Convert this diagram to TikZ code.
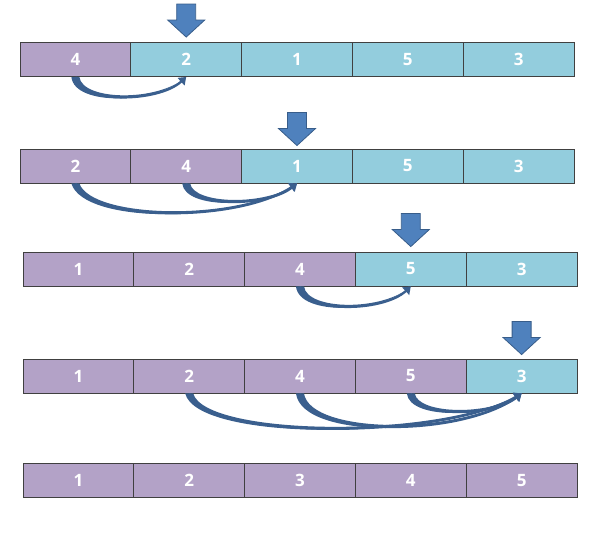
\documentclass[tikz,border=0pt]{standalone}
\usepackage{fontspec}
\setmainfont{Open Sans}
\usetikzlibrary{arrows.meta,calc}
\definecolor{purp}{HTML}{B3A2C7}
\definecolor{cy}{HTML}{93CDDD}
\definecolor{arrfill}{HTML}{4F81BD}
\definecolor{arrdraw}{HTML}{385D8A}
\definecolor{curvc}{HTML}{3A5F8E}
\tikzset{
  cell/.style={draw=black!75, line width=0.9pt, minimum width=110.8pt, minimum height=34pt, inner sep=0pt,
    text=white, font=\fontsize{17}{17}\selectfont\bfseries},
  curv/.style={draw=curvc, line width=2.3pt, -{Triangle[length=7pt,width=10pt]}},
  downarr/.pic={\filldraw[fill=arrfill,draw=arrdraw,line width=0.8pt]
    (0,0)--(18.5,-17)--(9.5,-17)--(9.5,-33)--(-9.5,-33)--(-9.5,-17)--(-18.5,-17)--cycle;}
}
\newcommand\tcurve[6]{%
  \fill[curvc] ($(#1.south)+(-4,0)$) .. controls ($(#1.south)+(#3-4,#4+3)$) and ($(#2.south)+(#5,#6+1)$) .. (#2.south)
    .. controls ($(#2.south)+(#5,#6-1)$) and ($(#1.south)+(#3+4,#4-3)$) .. ($(#1.south)+(4,0)$) -- cycle;
  \draw[curv] (#1.south) .. controls +(#3,#4) and +(#5,#6) .. (#2.south);
}
\begin{document}
\begin{tikzpicture}[x=1pt,y=-1pt]
\useasboundingbox (0,0) rectangle (603,536);
% row 1
\foreach \v/\c [count=\i] in {4/purp,2/cy,1/cy,5/cy,3/cy}
  \node[cell,fill=\c] (r1c\i) at ({20+110.8*(\i-0.5)},59.5) {\v};
% row 2
\foreach \v/\c [count=\i] in {2/purp,4/purp,1/cy,5/cy,3/cy}
  \node[cell,fill=\c] (r2c\i) at ({20+110.8*(\i-0.5)},166) {\v};
% row 3
\foreach \v/\c [count=\i] in {1/purp,2/purp,4/purp,5/cy,3/cy}
  \node[cell,fill=\c] (r3c\i) at ({23+110.8*(\i-0.5)},269) {\v};
% row 4
\foreach \v/\c [count=\i] in {1/purp,2/purp,4/purp,5/purp,3/cy}
  \node[cell,fill=\c] (r4c\i) at ({23+110.8*(\i-0.5)},376) {\v};
% row 5
\foreach \v/\c [count=\i] in {1/purp,2/purp,3/purp,4/purp,5/purp}
  \node[cell,fill=\c] (r5c\i) at ({23+110.8*(\i-0.5)},480.5) {\v};
% down arrows
\pic at ($(r1c2.north)+(0,-5)$) {downarr};
\pic at ($(r2c3.north)+(0,-3)$) {downarr};
\pic at ($(r3c4.north)+(0,-5)$) {downarr};
\pic at ($(r4c5.north)+(0,-4)$) {downarr};
% curved arrows
\tcurve{r1c1}{r1c2}{3}{27}{-28}{26}
\tcurve{r2c1}{r2c3}{12}{38}{-60}{40}
\tcurve{r2c2}{r2c3}{3}{24}{-30}{24}
\tcurve{r3c3}{r3c4}{3}{27}{-28}{26}
\tcurve{r4c2}{r4c5}{12}{46}{-80}{47}
\tcurve{r4c3}{r4c5}{6}{44}{-60}{44}
\tcurve{r4c4}{r4c5}{3}{24}{-30}{24}
\end{tikzpicture}
\end{document}
